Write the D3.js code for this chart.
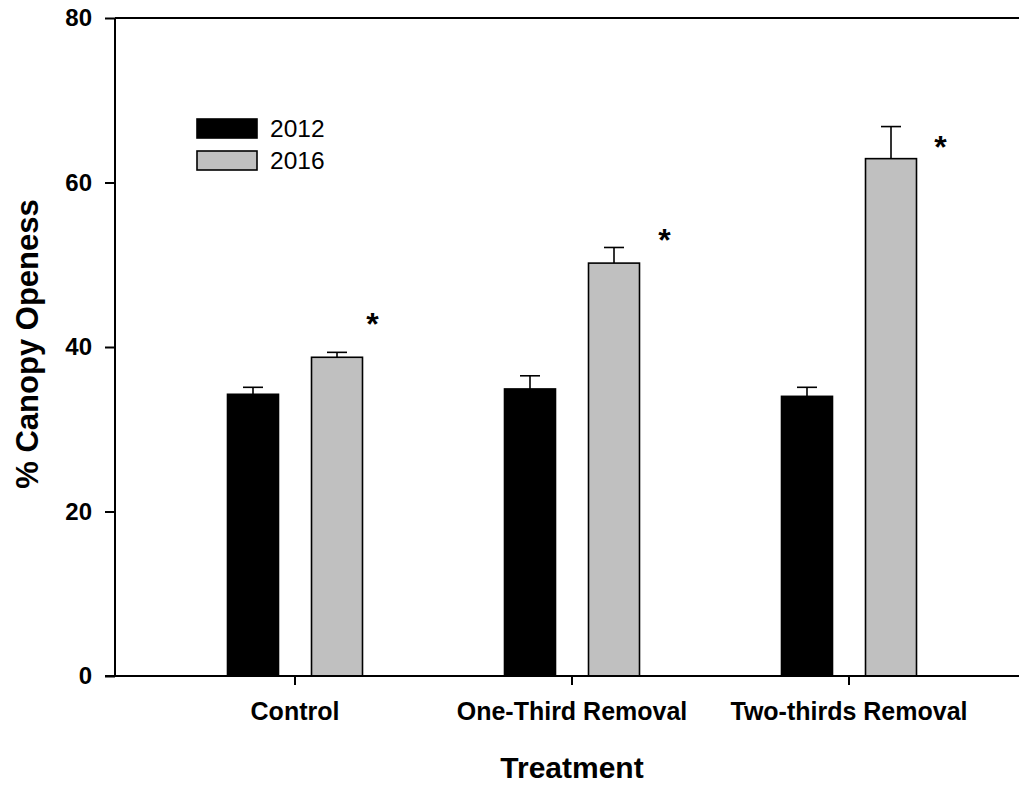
<!DOCTYPE html>
<html><head><meta charset="utf-8">
<script src="https://cdn.jsdelivr.net/npm/d3@7"></script>
<style>body{margin:0;background:#fff}svg{display:block}text{font-family:Arial,"Liberation Sans",sans-serif}</style>
</head><body>
<script>
const categories = ["Control", "One-Third Removal", "Two-thirds Removal"];
const years = ["2012", "2016"];
const means2012 = [34.25, 34.9, 34.0];
const err2012 = [0.85, 1.6, 1.1];
const means2016 = [38.75, 50.2, 62.9];
const err2016 = [0.6, 1.9, 3.9];
const starLevel = [43.4, 53.6, 64.9];
const yTicks = [0, 20, 40, 60, 80];
const colors = ["#000000", "#c0c0c0"];

// layout: horizontal nudge of each asterisk from its 2016 bar edge
const starDx = [10, 25, 24];

const W = 1019, H = 785;
const mLeft = 115, mTop = 18, mBottom = 676;
const svg = d3.select("body").append("svg").attr("width", W).attr("height", H);

const y = d3.scaleLinear().domain([0, 80]).range([mBottom, mTop]);
const x = d3.scaleBand().domain(categories).range([156.5, 987.5]);
const xs = d3.scaleBand().domain(years).range([-67.5, 67.5]).paddingInner(0.393).paddingOuter(0);

const series = [means2012, means2016], errs = [err2012, err2016];
const data = [];
categories.forEach((c, i) => years.forEach((yr, j) => data.push({c, yr, j, v: series[j][i], e: errs[j][i]})));

// bars
svg.selectAll("rect.bar").data(data).join("rect")
  .attr("x", d => x(d.c) + x.bandwidth()/2 + xs(d.yr))
  .attr("width", xs.bandwidth())
  .attr("y", d => y(d.v))
  .attr("height", d => y(0) - y(d.v))
  .attr("fill", d => colors[d.j]).attr("stroke", "#000").attr("stroke-width", 1.6);

// error bars (upper only)
const ex = d => x(d.c) + x.bandwidth()/2 + xs(d.yr) + xs.bandwidth()/2;
svg.selectAll("line.err").data(data).join("line")
  .attr("x1", ex).attr("x2", ex).attr("y1", d => y(d.v)).attr("y2", d => y(d.v + d.e))
  .attr("stroke", "#000").attr("stroke-width", 1.6);
svg.selectAll("line.cap").data(data).join("line")
  .attr("x1", d => ex(d) - 10).attr("x2", d => ex(d) + 10)
  .attr("y1", d => y(d.v + d.e)).attr("y2", d => y(d.v + d.e))
  .attr("stroke", "#000").attr("stroke-width", 1.6);

// asterisks
svg.selectAll("text.star").data(categories).join("text")
  .attr("x", (c, i) => x(c) + x.bandwidth()/2 + xs("2016") + xs.bandwidth() + starDx[i])
  .attr("y", (c, i) => y(starLevel[i]) + 16)
  .attr("text-anchor", "middle")
  .attr("font-size", 32).attr("font-weight", "bold").text("*");

// y axis
const yAxis = svg.append("g").attr("transform", `translate(${mLeft},0)`)
  .call(d3.axisLeft(y).tickValues(yTicks).tickSize(10).tickPadding(13));
yAxis.select(".domain").remove();
yAxis.selectAll(".tick line").attr("stroke", "#000").attr("stroke-width", 2);
yAxis.selectAll(".tick text").attr("font-size", 24).attr("font-weight", "bold").attr("fill", "#000")
  .attr("font-family", "Arial, 'Liberation Sans', sans-serif");
svg.append("line").attr("x1", mLeft).attr("x2", mLeft).attr("y1", mTop).attr("y2", mBottom).attr("stroke", "#000").attr("stroke-width", 2);
svg.append("line").attr("x1", mLeft).attr("x2", W).attr("y1", mTop).attr("y2", mTop).attr("stroke", "#000").attr("stroke-width", 2);

// x axis
const xAxis = svg.append("g").attr("transform", `translate(0,${mBottom})`)
  .call(d3.axisBottom(x).tickSize(9).tickPadding(17));
xAxis.select(".domain").remove();
xAxis.selectAll(".tick line").attr("stroke", "#000").attr("stroke-width", 2);
xAxis.selectAll(".tick text").attr("font-size", 25).attr("font-weight", "bold").attr("fill", "#000")
  .attr("font-family", "Arial, 'Liberation Sans', sans-serif");
svg.append("line").attr("x1", mLeft - 10).attr("x2", W).attr("y1", mBottom).attr("y2", mBottom).attr("stroke", "#000").attr("stroke-width", 2);

// axis titles
svg.append("text").attr("x", 572).attr("y", 778).attr("text-anchor", "middle")
  .attr("font-size", 30).attr("font-weight", "bold").text("Treatment");
svg.append("text").attr("transform", "translate(38,344) rotate(-90)").attr("text-anchor", "middle")
  .attr("font-size", 31).attr("font-weight", "bold").text("% Canopy Openess");

// legend
const lg = svg.append("g");
years.forEach((yr, j) => {
  lg.append("rect").attr("x", 197).attr("y", 119 + j * 32).attr("width", 60).attr("height", 19)
    .attr("fill", colors[j]).attr("stroke", "#000").attr("stroke-width", 1.6);
  lg.append("text").attr("x", 270).attr("y", 137 + j * 32).attr("font-size", 24.5).text(yr);
});
</script>
</body></html>
